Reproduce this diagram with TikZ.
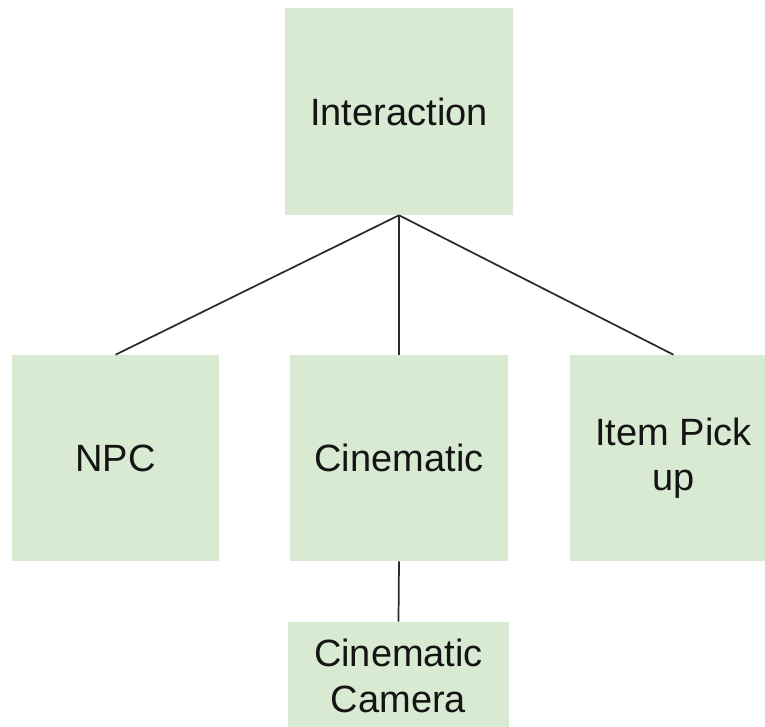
\documentclass[tikz,border=0pt]{standalone}
\usepackage{fontspec}
\setmainfont{Liberation Sans}
\definecolor{boxfill}{HTML}{D9EAD3}
\definecolor{linkcol}{HTML}{2B2B2B}
\begin{document}
\begin{tikzpicture}[x=0.75pt,y=-0.75pt,
  box/.style={fill=boxfill, draw=none, inner sep=0pt, align=center,
    font=\fontsize{28.5}{34}\selectfont, text=black!92},
  link/.style={draw=linkcol, line width=1.3pt}]
\useasboundingbox (0,0) rectangle (765,727);
\clip (0,0) rectangle (765,727);
% boxes (pixel grid, y downwards)
\node[box, minimum width=171pt, minimum height=155.25pt] (inter) at (399,111.5) {Interaction};
\node[box, minimum width=155.25pt, minimum height=154.5pt] (npc) at (115.5,458) {NPC};
\node[box, minimum width=163.5pt, minimum height=154.5pt] (cine) at (399,458) {Cinematic};
\node[box, minimum width=155.25pt, minimum height=154.5pt] (item) at (673.5,458) {Item Pick\\up};
\node[box, minimum width=165.75pt, minimum height=81pt] (cam) at (398.5,676) {Cinematic\\Camera};
% connectors
\draw[link] (inter.south) -- (npc.north);
\draw[link] (inter.south) -- (cine.north);
\draw[link] (inter.south) -- (item.north);
\draw[link] (cine.south) -- (cam.north);
\end{tikzpicture}
\end{document}
